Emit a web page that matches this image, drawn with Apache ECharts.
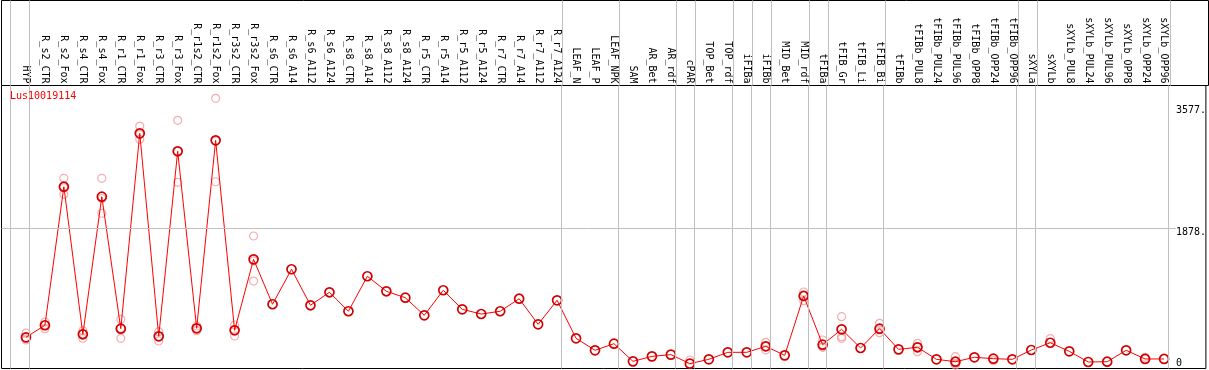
<!DOCTYPE html>
<html><head><meta charset="utf-8">
<script src="https://cdn.jsdelivr.net/npm/echarts@6/dist/echarts.min.js"></script>
<style>html,body{margin:0;padding:0;background:#fff}#c{width:1209px;height:370px}</style>
</head><body><div id="c"></div>
<script>
const geneName = 'Lus10019114';
const categories = ['HYP','R_s2_CTR','R_s2_Fox','R_s4_CTR','R_s4_Fox','R_r1_CTR','R_r1_Fox','R_r3_CTR','R_r3_Fox','R_r1s2_CTR','R_r1s2_Fox','R_r3s2_CTR','R_r3s2_Fox','R_s6_CTR','R_s6_A14','R_s6_A112','R_s6_A124','R_s8_CTR','R_s8_A14','R_s8_A112','R_s8_A124','R_r5_CTR','R_r5_A14','R_r5_A112','R_r5_A124','R_r7_CTR','R_r7_A14','R_r7_A112','R_r7_A124','LEAF_N','LEAF_P','LEAF_NPK','SAM','AR_Bet','AR_rdf','cPAR','TOP_Bet','TOP_rdf','iFIBa','iFIBb','MID_Bet','MID_rdf','tFIBa','tFIB_Gr','tFIB_Li','tFIB_Bi','tFIBb','tFIBb_PUL8','tFIBb_PUL24','tFIBb_PUL96','tFIBb_OPP8','tFIBb_OPP24','tFIBb_OPP96','sXYLa','sXYLb','sXYLb_PUL8','sXYLb_PUL24','sXYLb_PUL96','sXYLb_OPP8','sXYLb_OPP24','sXYLb_OPP96'];
const means = [367,534,2454,409,2316,487,3194,381,2945,492,3097,464,1448,825,1310,811,991,728,1213,1005,916,672,1019,755,690,728,902,547,880,353,187,279,34,103,127,2,62,159,159,242,117,940,265,478,219,487,200,229,62,29,90,71,62,191,292,173,25,29,187,67,67];
const repHigh = [425,579,2571,459,2571,617,3295,445,3374,524,3679,538,1771,null,null,null,null,null,null,null,null,null,null,null,null,null,null,null,null,null,null,null,null,null,null,53,null,null,null,297,null,995,330,653,null,561,null,284,null,99,null,null,null,null,348,null,null,null,null,90,null];
const repMid  = [346,536,2442,415,2291,491,3176,382,2946,493,3089,469,1426,null,null,null,null,null,null,null,null,null,null,null,null,null,null,null,null,null,null,null,null,null,null,null,null,null,null,241,null,950,237,376,null,469,null,235,null,5,null,null,null,null,null,null,null,null,null,null,null];
const repLow  = [330,487,2349,353,2086,353,3111,316,2515,459,2523,385,1147,null,null,null,null,null,null,null,null,null,null,null,null,null,null,null,null,null,null,null,null,null,null,null,null,null,null,191,null,875,228,353,null,431,null,168,null,-17,null,43,null,null,null,null,null,null,null,null,null];
// index of the last category before each vertical divider (-1 = before the first)
const dividerAfter = [-1,0,28,31,34,35,37,38,39,41,42,45,52,53,60];
const yLabelValues = [0,1878,3577];
const yGridValues = [1878];

// layout mapping
const X0 = 26, STEP = 19.01, GL = 1.5, GR = 1208.5, LABEL_MARGIN = 30;
const xMin = (GL - X0) / STEP, xMax = (GR - X0) / STEP;
const Y0 = 363.8, K = 0.07216, GT = 85.5, GB = 368.5;
const yMin = (Y0 - GB) / K, yMax = (Y0 - GT) / K;
const snap = v => { const px = X0 + STEP * v; return (Math.floor(px) + 0.5 - X0) / STEP; };
const dividerX = dividerAfter.map(k => snap(k + 0.2));
const hLineEnd = (GR - LABEL_MARGIN - X0) / STEP;

const FONT = 'DejaVu Sans Mono';
const repData = [];
[repHigh, repMid, repLow].forEach(arr => arr.forEach((v, i) => { if (v !== null) repData.push([i, v]); }));

const xCommon = {type:'value', min:xMin, max:xMax, splitLine:{show:false}, axisTick:{show:false}, axisLine:{show:false, onZero:false}};
const gridLineStyle = {color:'#c0c0c0', width:1, type:'solid'};

const chart = echarts.init(document.getElementById('c'), null, {renderer:'canvas'});
chart.setOption({
  animation:false,
  backgroundColor:'#fff',
  title:{text:geneName, left:10, top:91, padding:0, textStyle:{color:'#ff0000', fontSize:10, fontFamily:FONT, fontWeight:'normal'}},
  grid:[
    {show:true, borderColor:'#000', borderWidth:1, backgroundColor:'transparent', left:GL, right:1209-GR, top:0.5, height:GT-0.5},
    {show:true, borderColor:'#000', borderWidth:1, backgroundColor:'transparent', left:GL, right:1209-GR, top:GT, bottom:370-GB}
  ],
  xAxis:[
    Object.assign({}, xCommon, {gridIndex:0, axisLabel:{show:false}}),
    Object.assign({}, xCommon, {gridIndex:1, position:'top', axisLabel:{show:true, customValues:categories.map((c,i)=>i), formatter:v=>categories[v] ?? '', rotate:90, margin:2, fontSize:10, fontFamily:FONT, color:'#000', padding:[0,0,3,0]}})
  ],
  yAxis:[
    {gridIndex:0, type:'value', min:0, max:1, show:false},
    {gridIndex:1, type:'value', min:yMin, max:yMax, position:'right',
     axisLine:{show:false, onZero:false}, axisTick:{show:false}, splitLine:{show:false},
     axisLabel:{inside:true, customValues:yLabelValues, margin:LABEL_MARGIN, align:'left', verticalAlign:'middle', lineHeight:9,
       formatter:v => v === 0 ? String(v) : '\n' + v + '.', fontSize:10, fontFamily:FONT, color:'#000'}}
  ],
  series:[
    {type:'line', xAxisIndex:0, yAxisIndex:0, data:[], silent:true, z:1,
     markLine:{silent:true, symbol:['none','none'], label:{show:false}, lineStyle:gridLineStyle, data:dividerX.map(x=>({xAxis:x}))}},
    {type:'line', xAxisIndex:1, yAxisIndex:1, data:[], silent:true, z:1,
     markLine:{silent:true, symbol:['none','none'], label:{show:false}, lineStyle:gridLineStyle,
       data:dividerX.map(x=>({xAxis:x})).concat(yGridValues.map(y=>[{coord:[xMin,y]},{coord:[hLineEnd,y]}]))}},
    {type:'scatter', xAxisIndex:1, yAxisIndex:1, data:repData, symbol:'circle', symbolSize:8, z:3,
     itemStyle:{color:'rgba(0,0,0,0)', borderColor:'#f09a9a', borderWidth:1.2}, emphasis:{disabled:true}},
    {type:'line', xAxisIndex:1, yAxisIndex:1, data:means.map((v,i)=>[i,v]), symbol:'circle', symbolSize:9, showSymbol:true, z:4,
     lineStyle:{color:'#ff0000', width:1}, itemStyle:{color:'rgba(0,0,0,0)', borderColor:'#d00000', borderWidth:1.7}, emphasis:{disabled:true}}
  ]
});
</script></body></html>
